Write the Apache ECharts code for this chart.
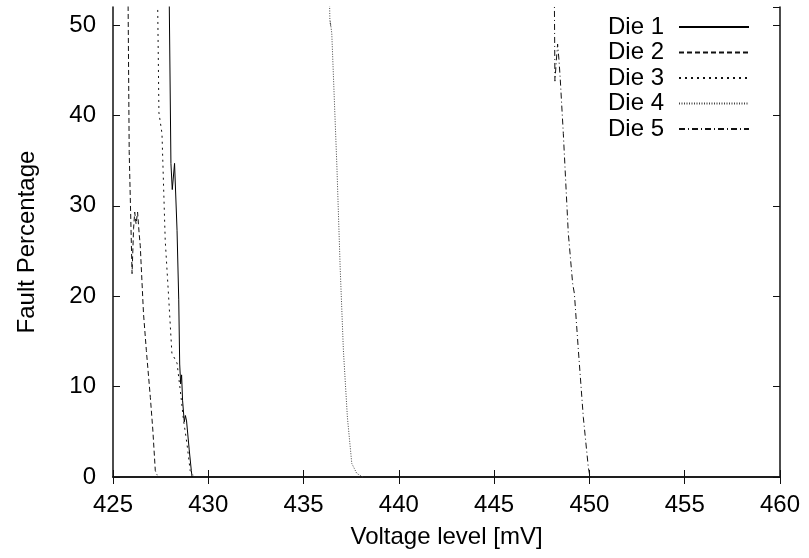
<!DOCTYPE html>
<html>
<head>
<meta charset="utf-8">
<script src="https://cdn.jsdelivr.net/npm/echarts@6/dist/echarts.min.js"></script>
<style>
  html, body { margin: 0; padding: 0; background: #fff; }
  #chart { width: 809px; height: 558px; }
</style>
</head>
<body>
<div id="chart"></div>
<script>
// axis ranges
const X_MIN = 425
const X_MAX = 460
const X_STEP = 5
const Y_MIN = 0
const Y_MAX = 52
const Y_STEP = 10

const SERIES_NAMES = ['Die 1', 'Die 2', 'Die 3', 'Die 4', 'Die 5']

// [voltage mV, fault %]
const die1 = [
  [427.95, 53], [428.04, 34.7], [428.11, 31.8], [428.23, 34.7], [428.36, 27.3],
  [428.45, 19.6], [428.5, 12.5], [428.55, 10.3], [428.6, 11.3], [428.65, 8.5],
  [428.74, 6.1], [428.8, 6.8], [428.86, 6.2], [429.0, 3], [429.11, 0.7], [429.15, 0]
]
const die2 = [
  [425.79, 53], [425.85, 36], [426.0, 22.5], [426.08, 27.5], [426.14, 29.3],
  [426.21, 28], [426.29, 29.3], [426.37, 27], [426.43, 25.6], [426.6, 18.1],
  [426.75, 14], [426.96, 8.8], [427.09, 5.2], [427.22, 0.7], [427.32, 0.2]
]
const die3 = [
  [427.34, 53], [427.41, 40.3], [427.57, 38], [427.74, 26.2], [427.92, 19.9],
  [428.09, 13.7], [428.36, 12.6], [428.53, 9.6], [428.7, 6.3], [428.88, 3.7],
  [429.05, 0.7], [429.21, 0.2]
]
const die4 = [
  [436.36, 53], [436.38, 50.6], [436.42, 49.9], [436.4, 50.4], [436.48, 49.1],
  [436.75, 34.3], [436.92, 23.2], [437.09, 14], [437.3, 6.6], [437.53, 1.5],
  [437.79, 0.4], [438.11, 0]
]
const die5 = [
  [448.16, 53], [448.19, 43.8], [448.26, 46], [448.33, 47.9], [448.4, 46.2],
  [448.47, 44], [448.63, 38], [448.89, 27], [449.12, 21.4], [449.21, 20.3],
  [449.42, 14], [449.68, 6.6], [449.94, 1.1], [450.03, 0], [450.1, 0]
]

const SERIES_DATA = [die1, die2, die3, die4, die5]
const LINE_TYPES = ['solid', [5, 3], [2, 4], [1, 1.5], [6, 3, 1, 3]]
const LINE_COLORS = ['#000', '#111', '#111', '#444', '#111']

const FONT = "'Liberation Sans', Arial, sans-serif"
const AXIS_COLOR = '#111'

const chart = echarts.init(document.getElementById('chart'), null, { renderer: 'canvas' })

const baseAxis = {
  axisLine: { show: true, lineStyle: { color: AXIS_COLOR, width: 1.5 } },
  axisTick: { show: true, inside: true, length: 7, lineStyle: { color: AXIS_COLOR, width: 1 } },
  splitLine: { show: false }
}

chart.setOption({
  animation: false,
  backgroundColor: '#ffffff',
  textStyle: { fontFamily: FONT, color: '#000' },
  grid: { left: 113, right: 29, top: 7, bottom: 81, containLabel: false },
  legend: {
    orient: 'vertical',
    right: 59,
    top: 15,
    padding: 0,
    align: 'right',
    itemWidth: 70,
    itemHeight: 14,
    itemGap: 1.5,
    itemStyle: { opacity: 0 },
    data: SERIES_NAMES,
    textStyle: { fontFamily: FONT, fontSize: 24, color: '#000', lineHeight: 24, padding: [0, 10, 0, 0] }
  },
  xAxis: [
    {
      ...baseAxis,
      type: 'value',
      min: X_MIN,
      max: X_MAX,
      interval: X_STEP,
      position: 'bottom',
      name: 'Voltage level [mV]',
      nameLocation: 'middle',
      nameGap: 48,
      nameTextStyle: { fontFamily: FONT, fontSize: 24, color: '#000' },
      axisLabel: { margin: 16, fontFamily: FONT, fontSize: 24, color: '#000' }
    },
    {
      ...baseAxis,
      type: 'value',
      min: X_MIN,
      max: X_MAX,
      interval: X_STEP,
      position: 'top',
      axisLabel: { show: false }
    }
  ],
  yAxis: [
    {
      ...baseAxis,
      type: 'value',
      min: Y_MIN,
      max: Y_MAX,
      interval: Y_STEP,
      position: 'left',
      name: 'Fault Percentage',
      nameLocation: 'middle',
      nameGap: 74,
      nameTextStyle: { fontFamily: FONT, fontSize: 24, color: '#000' },
      axisLabel: { margin: 17, fontFamily: FONT, fontSize: 24, color: '#000' }
    },
    {
      ...baseAxis,
      type: 'value',
      min: Y_MIN,
      max: Y_MAX,
      interval: Y_STEP,
      position: 'right',
      axisLabel: { show: false }
    }
  ],
  series: SERIES_NAMES.map((name, i) => ({
    name,
    type: 'line',
    xAxisIndex: 0,
    yAxisIndex: 0,
    data: SERIES_DATA[i],
    showSymbol: false,
    symbol: 'none',
    clip: true,
    lineStyle: { color: LINE_COLORS[i], width: 1, type: LINE_TYPES[i] },
    itemStyle: { color: LINE_COLORS[i] }
  }))
})
</script>
</body>
</html>
